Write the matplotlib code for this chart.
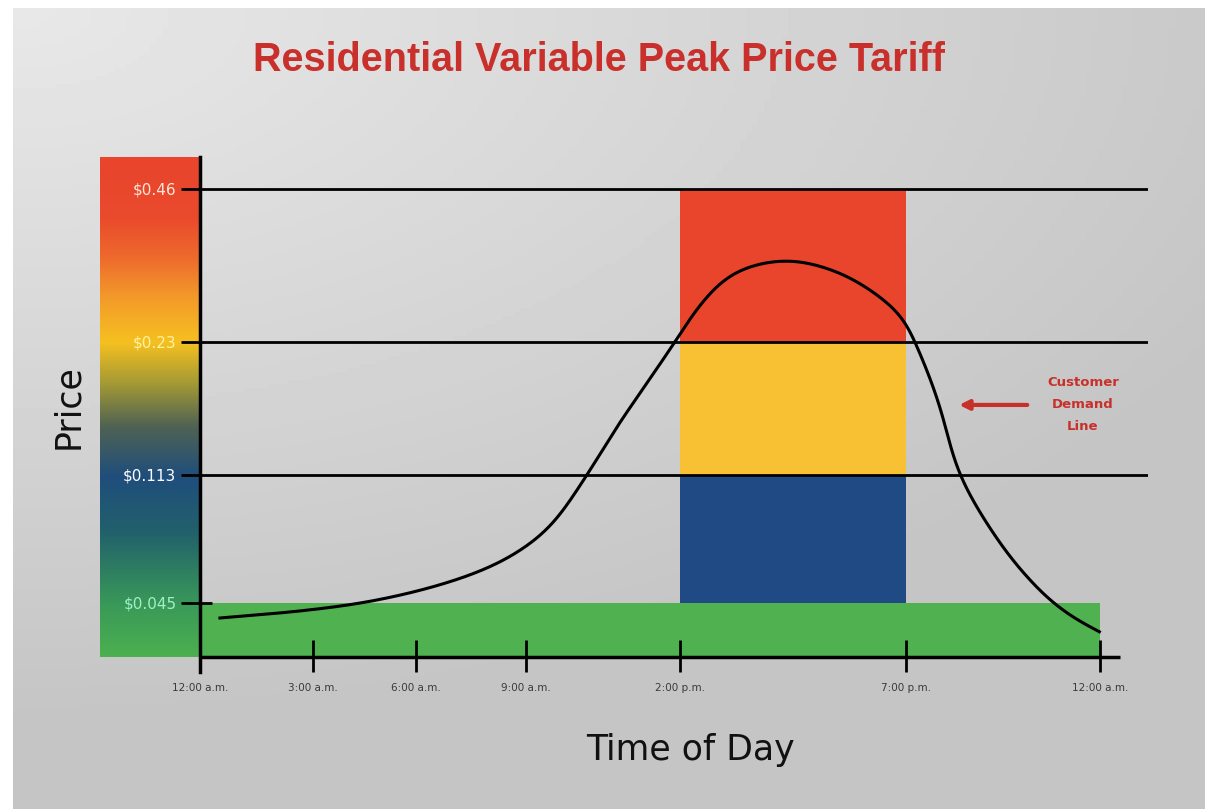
import numpy as np
import matplotlib
matplotlib.use("Agg")
import matplotlib.pyplot as plt
from matplotlib.colors import LinearSegmentedColormap

# price tiers ($/kWh)
price_levels = [0.045, 0.113, 0.23, 0.46]
price_labels = ["$0.045", "$0.113", "$0.23", "$0.46"]
label_colors = ["#9ff0c8", "#ffffff", "#fff3a0", "#ffe6dc"]

# time of day axis (hours after midnight)
tick_hours = [0, 3, 6, 9, 14, 19, 24]
tick_labels = ["12:00 a.m.", "3:00 a.m.", "6:00 a.m.", "9:00 a.m.", "2:00 p.m.", "7:00 p.m.", "12:00 a.m."]

# peak window and its stacked tiers
peak_start, peak_end = 14, 19
tier_bottom = [0.045, 0.113, 0.23]
tier_top = [0.113, 0.23, 0.46]
tier_colors = ["#1f4a83", "#f7c133", "#e9452c"]
base_price = 0.045

# customer demand line
demand_hours = [0.53, 2.65, 4.57, 6.46, 7.83, 8.75, 9.78, 10.98, 11.95, 12.93, 13.84, 14.44,
                15.17, 16.37, 17.38, 17.98, 18.93, 19.23, 19.54, 19.88, 20.39, 21.42,
                22.12, 22.79, 23.41, 24.0]
demand_price = [0.0325, 0.0383, 0.0455, 0.0535, 0.0625, 0.0716, 0.0854, 0.113, 0.1552, 0.1939,
                0.23, 0.2856, 0.3337, 0.3533, 0.3383, 0.3187, 0.2676, 0.23, 0.2054,
                0.1728, 0.113, 0.0769, 0.0588, 0.045, 0.0308, 0.0208]

# the drawing is schematic: piecewise scales that follow the original layout
x_anchor_h = np.array([-3, 0, 3, 6, 9, 14, 19, 24, 27])
x_anchor_p = np.array([87, 200, 313, 416, 526, 680, 906, 1100, 1216.4])
y_anchor_v = np.array([-0.05, 0, 0.045, 0.113, 0.23, 0.46, 0.69])
y_anchor_p = np.array([-60, 0, 54, 182, 315, 468, 621])


def fx(h):
    return np.interp(h, x_anchor_h, x_anchor_p)


def fx_inv(p):
    return np.interp(p, x_anchor_p, x_anchor_h)


def fy(v):
    return np.interp(v, y_anchor_v, y_anchor_p)


def fy_inv(p):
    return np.interp(p, y_anchor_p, y_anchor_v)


def smooth_path(xs, ys, n=24, sigma=16):
    # centripetal Catmull-Rom through the read points, done in drawn space,
    # then a gaussian pass along the arc to soften curvature jumps
    P = np.column_stack([fx(np.array(xs)), fy(np.array(ys))])
    P = np.vstack([2 * P[0] - P[1], P, 2 * P[-1] - P[-2]])
    out = []
    for i in range(1, len(P) - 2):
        p0, p1, p2, p3 = P[i - 1], P[i], P[i + 1], P[i + 2]
        t0 = 0.0
        t1 = t0 + np.linalg.norm(p1 - p0) ** 0.5
        t2 = t1 + np.linalg.norm(p2 - p1) ** 0.5
        t3 = t2 + np.linalg.norm(p3 - p2) ** 0.5
        t = np.linspace(t1, t2, n, endpoint=False)[:, None]
        a1 = (t1 - t) / (t1 - t0) * p0 + (t - t0) / (t1 - t0) * p1
        a2 = (t2 - t) / (t2 - t1) * p1 + (t - t1) / (t2 - t1) * p2
        a3 = (t3 - t) / (t3 - t2) * p2 + (t - t2) / (t3 - t2) * p3
        b1 = (t2 - t) / (t2 - t0) * a1 + (t - t0) / (t2 - t0) * a2
        b2 = (t3 - t) / (t3 - t1) * a2 + (t - t1) / (t3 - t1) * a3
        out.append((t2 - t) / (t2 - t1) * b1 + (t - t1) / (t2 - t1) * b2)
    out.append(P[-2][None, :])
    out = np.vstack(out)

    # resample by arc length (1 px steps)
    d = np.r_[0, np.cumsum(np.hypot(*np.diff(out, axis=0).T))]
    s = np.arange(0, d[-1], 1.0)
    rx = np.interp(s, d, out[:, 0])
    ry = np.interp(s, d, out[:, 1])
    k = int(3 * sigma)
    kern = np.exp(-0.5 * (np.arange(-k, k + 1) / sigma) ** 2)
    kern /= kern.sum()

    def blur(v):
        pad_l = 2 * v[0] - v[k:0:-1]
        pad_r = 2 * v[-1] - v[-2:-k - 2:-1]
        return np.convolve(np.r_[pad_l, v, pad_r], kern, mode="valid")

    return fx_inv(blur(rx)), fy_inv(blur(ry))


W, H = 1208, 809
fig = plt.figure(figsize=(W / 100, H / 100), dpi=100)
fig.patch.set_facecolor("white")

# grey gradient panel
bg = fig.add_axes([13 / W, 0, (1205 - 13) / W, (H - 8) / H])
gx, gy = np.meshgrid(np.linspace(0, 1, 200), np.linspace(0, 1, 200))
shade = np.clip(0.91 - 0.12 * np.sqrt(gx ** 2 + (1.3 * gy) ** 2), 0.77, 1)
bg.imshow(shade, cmap="gray", vmin=0, vmax=1, aspect="auto", extent=[0, 1, 1, 0])
bg.set_axis_off()

# colour ramp next to the price axis
ramp_cmap = LinearSegmentedColormap.from_list("ramp", [
    (0.0, "#4cb050"), (0.1, "#3a9a58"), (0.25, "#22606c"), (0.36, "#1f4e7c"),
    (0.46, "#4f6253"), (0.55, "#a69b34"), (0.63, "#f6c020"), (0.72, "#f39a2a"),
    (0.8, "#ee6a2d"), (0.88, "#ea4a2c"), (1.0, "#e8452c")])
ramp = fig.add_axes([100 / W, (H - 657) / H, 99 / W, 500 / H])
ramp.imshow(np.linspace(1, 0, 256).reshape(-1, 1), cmap=ramp_cmap, aspect="auto")
ramp.set_axis_off()

ax = fig.add_axes([200 / W, (H - 672) / H, 948 / W, 515 / H])
ax.patch.set_alpha(0)
ax.set_xscale("function", functions=(fx, fx_inv))
ax.set_yscale("function", functions=(fy, fy_inv))
ax.set_xlim(0, 25.24)
ax.set_ylim(-0.0125, 0.508)

# off-peak base band and peak tiers
ax.bar(0, base_price, width=24, bottom=0, align="edge", color="#50b150", zorder=1)
for b, t, c in zip(tier_bottom, tier_top, tier_colors):
    ax.bar(peak_start, t - b, width=peak_end - peak_start, bottom=b, align="edge",
           color=c, zorder=1)

for lvl in price_levels[1:]:
    ax.axhline(lvl, color="black", lw=2, zorder=2)
ax.hlines(0, 0, 24.52, color="black", lw=2.5, zorder=2)
ax.hlines(price_levels[0], 0, 0.33, color="black", lw=2, zorder=2)

sx, sy = smooth_path(demand_hours, demand_price)
ax.plot(sx, sy, color="black", lw=2.2, zorder=3)

for s in ["top", "right", "bottom"]:
    ax.spines[s].set_visible(False)
ax.spines["left"].set_linewidth(2.5)

ax.set_xticks(tick_hours)
ax.set_xticklabels(tick_labels)
ax.xaxis.set_minor_locator(matplotlib.ticker.NullLocator())
ax.tick_params(axis="x", direction="in", length=23, width=2, pad=8,
               labelsize=7.5, labelcolor="#3a3a3a")
ax.set_yticks(price_levels)
ax.set_yticklabels(price_labels)
ax.yaxis.set_minor_locator(matplotlib.ticker.NullLocator())
ax.tick_params(axis="y", direction="out", length=14, width=2, pad=3, labelsize=11)
for lab, col in zip(ax.get_yticklabels(), label_colors):
    lab.set_color(col)

# annotation
ax.annotate("", xy=(20.3, 0.1746), xytext=(22.2, 0.1746),
            arrowprops=dict(arrowstyle="-|>", color="#c8302a", lw=3, mutation_scale=14))
ax.text(23.56, 0.1746, "Customer\nDemand\nLine", color="#c8302a", fontsize=9.5,
        fontweight="bold", ha="center", va="center", linespacing=1.9)

fig.text(599 / W, 1 - 60 / H, "Residential Variable Peak Price Tariff",
         family=["Liberation Sans", "DejaVu Sans"], fontweight="bold",
         fontsize=28.5, color="#c9302c", ha="center", va="center")
fig.text(68 / W, 1 - 407 / H, "Price", fontsize=25, rotation=90,
         ha="center", va="center", color="#111111")
fig.text(691 / W, 1 - 750 / H, "Time of Day", fontsize=25,
         ha="center", va="center", color="#111111")

fig.savefig("out.png", dpi=100)
